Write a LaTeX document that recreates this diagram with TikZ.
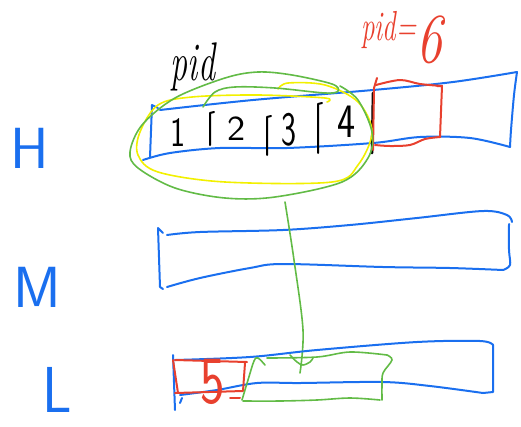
\documentclass[tikz,border=0pt]{standalone}
\usepackage{fontspec}
\usepackage{graphicx}
\definecolor{skblue}{HTML}{1A6FEF}
\definecolor{skred}{HTML}{E8402E}
\definecolor{skgreen}{HTML}{62BB46}
\definecolor{skyellow}{HTML}{F2F000}
\begin{document}
\begin{tikzpicture}[x=1pt,y=-1pt,line cap=round,line join=round,
  bluepen/.style={draw=skblue,line width=2pt},
  redpen/.style={draw=skred,line width=2pt},
  greenpen/.style={draw=skgreen,line width=1.6pt},
  yellowpen/.style={draw=skyellow,line width=1.6pt},
  blackpen/.style={draw=black,line width=2pt},
  lvl/.style={text=skblue,font=\sffamily\fontsize{58}{58}\selectfont,inner sep=0pt},
  cell/.style={text=black,font=\sffamily\fontsize{32}{32}\selectfont,inner sep=0pt},
  sm/.style={smooth,tension=0.55}]
\useasboundingbox (0,0) rectangle (521,426);
% level labels
\node[lvl] (H) at (30,148) {H};
\node[lvl] (M) at (37,287) {M};
\node[lvl] (L) at (57,390) {\scalebox{1}[1.12]{L}};
% H bar
\draw[bluepen] (158,108) -- (152,105) -- (150,157);
\draw[bluepen] plot[sm] coordinates {(160,110) (253,100) (373,90) (453,82) (517,72)};
\draw[bluepen] plot[sm] coordinates {(517,72) (514,95) (511,130) (510,147)};
\draw[bluepen] plot[sm] coordinates {(510,147) (470,138) (420,137) (373,143) (287,148) (220,148) (170,153) (143,160)};
% cells
\draw[blackpen] (214,112) -- (210,113) -- (210,145);
\draw[blackpen] (271,116) -- (267,117) -- (267,155);
\draw[blackpen] (322,103) -- (318,104) -- (318,153);
\draw[black,line width=2.6pt] (373,93) -- (372,153);
\node[cell] (c1) at (178,133) {\scalebox{1}[1.3]{1}};
\node[cell] (c2) at (237,129) {\scalebox{1.2}[1.1]{2}};
\node[cell] (c3) at (289,130) {\scalebox{1}[1.5]{3}};
\node[cell] (c4) at (347,122) {\scalebox{1.2}[1.5]{4}};
\node[text=black,font=\itshape\fontsize{34}{34}\selectfont,inner sep=0pt] (pid) at (193,67) {\scalebox{1}[1.6]{pid}};
% red new slot in H
\draw[redpen] plot[sm] coordinates {(376,85) (400,80) (420,84) (442,86)};
\draw[redpen] (437,86) -- (442,86) -- (440,137);
\draw[redpen] plot[sm] coordinates {(440,137) (425,139) (410,145) (390,146) (375,145)};
\draw[redpen] (377,78) -- (374,88) -- (373,150);
\node[text=skred,font=\itshape\fontsize{30}{30}\selectfont,inner sep=0pt,anchor=base west] (pid6) at (361,40) {\scalebox{0.9}[1.4]{pid=}\raisebox{-22pt}{\fontsize{52}{52}\selectfont\scalebox{1}[1.35]{6}}};
% yellow loop
\draw[yellowpen] plot[sm] coordinates {(278,89) (288,83) (325,85) (358,102) (372,132) (358,165) (332,182) (225,182) (158,172) (138,155) (140,132) (158,105) (192,97) (258,95) (325,98) (327,102)};
% green loop
\draw[greenpen] plot[sm] coordinates {(203,107) (215,92) (235,87) (275,88) (325,93) (338,91) (332,84) (292,75) (258,72) (225,78) (175,98) (142,125) (130,152) (138,168) (175,188) (225,198) (275,197) (342,182) (368,158) (372,132) (358,100) (340,86)};
% M bar
\draw[bluepen] (163,233) -- (158,228) -- (160,287) -- (163,289);
\draw[bluepen] plot[sm] coordinates {(167,235) (200,232) (283,230) (350,225) (417,218) (483,211) (507,215) (512,222)};
\draw[bluepen] plot[sm] coordinates {(509,224) (509,250) (510,265) (503,270)};
\draw[bluepen] plot[sm] coordinates {(503,270) (450,268) (383,267) (283,264) (250,268) (200,278) (167,287)};
% green connector
\draw[greenpen] plot[sm] coordinates {(285,202) (294,260) (303,330) (300,373)};
% L bar
\draw[bluepen] (173,355) -- (175,410);
\draw[bluepen] plot[sm] coordinates {(175,360) (250,357) (317,350) (417,342) (480,341) (493,345)};
\draw[bluepen] (493,345) -- (493,392) -- (483,393);
\draw[bluepen] plot[sm] coordinates {(483,393) (430,386) (383,382) (300,383) (257,383) (217,390) (180,395)};
\draw[bluepen] (182,398) -- (180,403);
% red slot in L
\draw[redpen] (175,360) -- (247,362);
\draw[redpen] (245,363) -- (243,391) -- (175,393);
\draw[redpen] (173,360) -- (178,393);
\draw[redpen] (230,398) -- (240,398);
\node[text=skred,font=\sffamily\fontsize{52}{52}\selectfont,inner sep=0pt] (p5) at (213,382) {\scalebox{1}[1.3]{5}};
% green box in L
\draw[greenpen] plot[sm] coordinates {(265,365) (258,358) (254,361) (248,380) (242,400)};
\draw[greenpen] plot[sm] coordinates {(243,401) (280,401) (317,400) (350,398) (380,400)};
\draw[greenpen] plot[sm] coordinates {(382,400) (382,385) (383,373) (392,360) (387,355)};
\draw[greenpen] plot[sm] coordinates {(387,355) (350,352) (317,357) (267,358)};
\draw[greenpen] plot[sm] coordinates {(290,355) (297,362) (303,365) (310,362) (313,358)};
\end{tikzpicture}
\end{document}
